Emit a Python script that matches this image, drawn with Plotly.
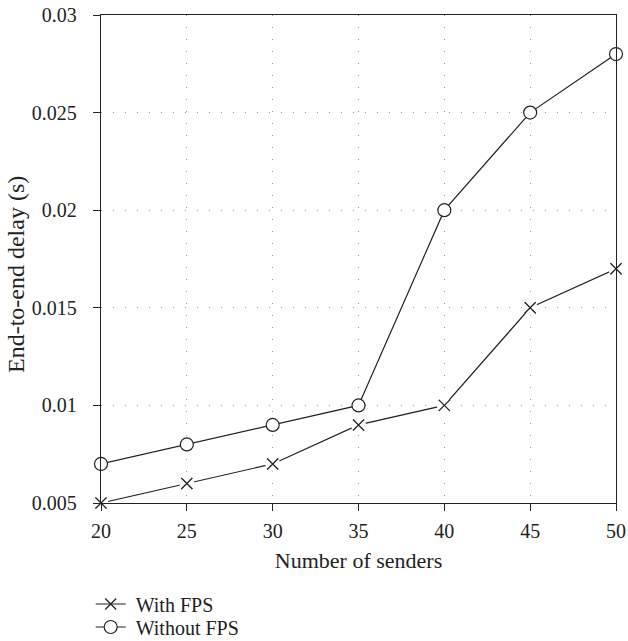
import plotly.graph_objects as go

senders = [20, 25, 30, 35, 40, 45, 50]
with_fps = [0.005, 0.006, 0.007, 0.009, 0.010, 0.015, 0.017]
without_fps = [0.007, 0.008, 0.009, 0.010, 0.020, 0.025, 0.028]
x_ticks = [20, 25, 30, 35, 40, 45, 50]
y_ticks = [0.005, 0.01, 0.015, 0.02, 0.025, 0.03]
y_tick_labels = ["0.005", "0.01", "0.015", "0.02", "0.025", "0.03"]

FONT = "Liberation Serif"
INK = "#222"
NB = "\u00a0"

fig = go.Figure()
# With FPS: line + X markers (legend entry)
fig.add_trace(go.Scatter(
    x=senders, y=with_fps, mode="lines+markers", name=NB + "With FPS",
    line=dict(color=INK, width=1.2),
    marker=dict(symbol="x-thin", size=11, color=INK,
                line=dict(color=INK, width=1.3)),
    cliponaxis=False, legend="legend",
))
# white halo so the line stops short of each X
fig.add_trace(go.Scatter(
    x=senders, y=with_fps, mode="markers", showlegend=False, hoverinfo="skip",
    marker=dict(symbol="circle", size=15, color="white", line=dict(width=0)),
    cliponaxis=False,
))
fig.add_trace(go.Scatter(
    x=senders, y=with_fps, mode="markers", showlegend=False, hoverinfo="skip",
    marker=dict(symbol="x-thin", size=11, color=INK,
                line=dict(color=INK, width=1.3)),
    cliponaxis=False,
))
fig.add_trace(go.Scatter(
    x=senders, y=without_fps, mode="lines+markers", name=NB + "Without FPS",
    line=dict(color=INK, width=1.2),
    marker=dict(symbol="circle", size=13, color="white",
                line=dict(color=INK, width=1.2)),
    cliponaxis=False, legend="legend2",
))

leg_common = dict(xanchor="left", yanchor="middle", orientation="v",
                  itemwidth=30, font=dict(family=FONT, size=20, color=INK),
                  bgcolor="rgba(0,0,0,0)", borderwidth=0)
fig.update_layout(
    width=628, height=641,
    margin=dict(l=101, r=12, t=15, b=138, autoexpand=False),
    paper_bgcolor="white", plot_bgcolor="white",
    font=dict(family=FONT, size=20, color=INK),
    showlegend=True,
    legend=dict(x=-0.02, y=(503 - 604) / 488, **leg_common),
    legend2=dict(x=-0.02, y=(503 - 627) / 488, **leg_common),
)
fig.add_annotation(
    text="End-to-end delay (s)", textangle=-90,
    xref="paper", yref="paper", x=(16 - 101) / 515, y=(503 - 275) / 488,
    xanchor="center", yanchor="middle", showarrow=False,
    font=dict(family=FONT, size=24, color=INK),
)
fig.update_xaxes(
    range=[20, 50], tickvals=x_ticks, ticktext=[str(v) for v in x_ticks],
    showline=True, linecolor=INK, linewidth=1.3, mirror=True,
    ticks="outside", ticklen=7, tickcolor=INK, tickwidth=1,
    ticklabelstandoff=3, automargin=False,
    showgrid=True, gridcolor="#999", griddash="1px,11px", gridwidth=1,
    zeroline=False, tickfont=dict(family=FONT, size=20, color=INK),
    title=dict(text="Number of senders", font=dict(family=FONT, size=22, color=INK), standoff=11),
)
fig.update_yaxes(
    range=[0.005, 0.03], tickvals=y_ticks, ticktext=y_tick_labels,
    showline=True, linecolor=INK, linewidth=1.3, mirror=True,
    ticks="outside", ticklen=7, tickcolor=INK, tickwidth=1,
    ticklabelstandoff=12, automargin=False,
    showgrid=True, gridcolor="#999", griddash="1px,11px", gridwidth=1,
    zeroline=False, tickfont=dict(family=FONT, size=20, color=INK),
)

fig.write_html("out.html")
